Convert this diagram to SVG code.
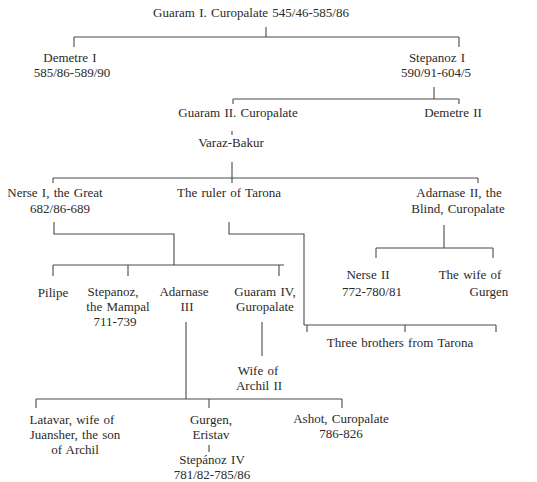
<svg xmlns="http://www.w3.org/2000/svg" width="537" height="482" viewBox="0 0 537 482">
<style>
text{font-family:"Liberation Serif","Times New Roman",serif;font-size:13px;fill:#2a2a2a;text-anchor:middle;word-spacing:1px}
.c path{fill:none;stroke:#4a4a4a;stroke-width:1.1}
</style>
<rect width="537" height="482" fill="#fff"/>
<g class="c" id="connectors">
<path d="M266 27V37M74 37H459M74 37V47M459 37V47"/>
<path d="M434 87V99M233 99H459M233 99V104M459 99V104"/>
<path d="M232 131V135"/>
<path d="M232 162V183M53 178H478M53 178V183M478 178V183"/>
<path d="M54 222V234H174V265"/>
<path d="M229 222V234H304V325"/>
<path d="M53 265H284M53 265V276M128 265V276M279 265V276"/>
<path d="M444 225V248M376 248H493M376 248V258M493 248V258"/>
<path d="M304 325H496M307 325V332M405 325V332M496 325V332"/>
<path d="M186 322V399M36 399H342M36 399V408M209 399V408M342 399V408"/>
<path d="M262 322V356"/>
<path d="M209 445V452"/>
</g>
<g id="guaram1"><text x="251" y="17">Guaram I. Curopalate 545/46-585/86</text></g>
<g id="demetre1"><text x="70" y="62">Demetre I</text><text x="72" y="77">585/86-589/90</text></g>
<g id="stepanoz1"><text x="437" y="62">Stepanoz I</text><text x="436" y="77">590/91-604/5</text></g>
<g id="guaram2"><text x="238" y="117">Guaram II. Curopalate</text></g>
<g id="demetre2"><text x="453" y="117">Demetre II</text></g>
<g id="varaz"><text x="231" y="147">Varaz-Bakur</text></g>
<g id="nerse1"><text x="55" y="197">Nerse I, the Great</text><text x="60" y="213">682/86-689</text></g>
<g id="ruler"><text x="229" y="197">The ruler of Tarona</text></g>
<g id="adarnase2"><text x="459" y="197">Adarnase II, the</text><text x="458" y="213">Blind, Curopalate</text></g>
<g id="nerse2"><text x="368" y="279">Nerse II</text><text x="372" y="296">772-780/81</text></g>
<g id="wifegurgen"><text x="470" y="279">The wife of</text><text x="489" y="296">Gurgen</text></g>
<g id="pilipe"><text x="53" y="297">Pilipe</text></g>
<g id="stepanoz"><text x="113" y="296">Stepanoz,</text><text x="118" y="311">the Mampal</text><text x="115" y="326">711-739</text></g>
<g id="adarnase3"><text x="184" y="296">Adarnase</text><text x="187" y="311">III</text></g>
<g id="guaram4"><text x="265" y="296">Guaram IV,</text><text x="265" y="311">Guropalate</text></g>
<g id="brothers"><text x="400" y="347">Three brothers from Tarona</text></g>
<g id="wifearchil"><text x="258" y="375">Wife of</text><text x="259" y="390">Archil II</text></g>
<g id="latavar"><text x="72" y="424">Latavar, wife of</text><text x="75" y="439">Juansher, the son</text><text x="75" y="454">of Archil</text></g>
<g id="gurgen"><text x="211" y="424">Gurgen,</text><text x="211" y="439">Eristav</text></g>
<g id="stepanoz4"><text x="212" y="464">Stepánoz IV</text><text x="212" y="479">781/82-785/86</text></g>
<g id="ashot"><text x="341" y="423">Ashot, Curopalate</text><text x="341" y="438">786-826</text></g>
</svg>
